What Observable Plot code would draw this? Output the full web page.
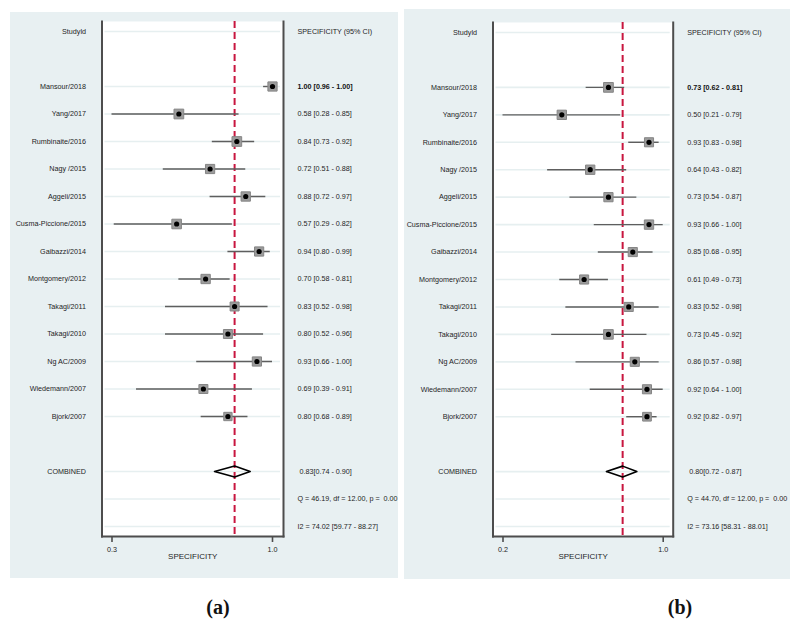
<!DOCTYPE html>
<html>
<head>
<meta charset="utf-8">
<script src="https://cdn.jsdelivr.net/npm/d3@7"></script>
<script src="https://cdn.jsdelivr.net/npm/@observablehq/plot@0.6"></script>
<style>
  html, body { margin: 0; padding: 0; background: #ffffff; }
  body { width: 800px; height: 626px; position: relative; overflow: hidden; font-family: "Liberation Sans", Arial, sans-serif; }
  #pa { position: absolute; left: 10px; top: 12px; }
  #pb { position: absolute; left: 404px; top: 9px; }
  .cap { position: absolute; font-family: "Liberation Serif", "Times New Roman", serif; font-weight: bold; font-size: 20px; color: #111; transform: translate(-50%, -50%); }
</style>
</head>
<body>
<div id="pa"></div>
<div id="pb"></div>
<div class="cap" style="left:218px; top:607px;">(a)</div>
<div class="cap" style="left:680px; top:607px;">(b)</div>
<script>
// ---------- data ----------
const studies = ["Mansour/2018", "Yang/2017", "Rumbinaite/2016", "Nagy /2015", "Aggeli/2015",
  "Cusma-Piccione/2015", "Gaibazzi/2014", "Montgomery/2012", "Takagi/2011", "Takagi/2010",
  "Ng AC/2009", "Wiedemann/2007", "Bjork/2007"];

// panel (a)
const specA = [1.00, 0.58, 0.84, 0.72, 0.88, 0.57, 0.94, 0.70, 0.83, 0.80, 0.93, 0.69, 0.80];
const lowA  = [0.96, 0.28, 0.73, 0.51, 0.72, 0.29, 0.80, 0.58, 0.52, 0.52, 0.66, 0.39, 0.68];
const highA = [1.00, 0.85, 0.92, 0.88, 0.97, 0.82, 0.99, 0.81, 0.98, 0.96, 1.00, 0.91, 0.89];
const weightA = [7.6, 8.5, 8.4, 7.6, 7.8, 8.2, 7.6, 7.8, 7.2, 7.2, 7.6, 7.2, 6.2];
const combinedA = [0.83, 0.74, 0.90];
const qA = [46.19, 12.00, 0.00];
const i2A = [74.02, 59.77, 88.27];

// panel (b)
const specB = [0.73, 0.50, 0.93, 0.64, 0.73, 0.93, 0.85, 0.61, 0.83, 0.73, 0.86, 0.92, 0.92];
const lowB  = [0.62, 0.21, 0.83, 0.43, 0.54, 0.66, 0.68, 0.49, 0.52, 0.45, 0.57, 0.64, 0.82];
const highB = [0.81, 0.79, 0.98, 0.82, 0.87, 1.00, 0.95, 0.73, 0.98, 0.92, 0.98, 1.00, 0.97];
const weightB = [8.5, 7.8, 7.4, 7.8, 7.6, 7.8, 7.4, 7.4, 7.4, 8.2, 7.4, 7.4, 6.8];
const combinedB = [0.80, 0.72, 0.87];
const qB = [44.70, 12.00, 0.00];
const i2B = [73.16, 58.31, 88.01];

const headerLeft = "Studyld";
const headerRight = "SPECIFICITY (95% CI)";
const axisLabel = "SPECIFICITY";

// ---------- drawing ----------
const f2 = v => v.toFixed(2);
const NB = "\u00a0";

function panel(spec, low, high, weight, comb, q, i2, box) {
  const rows = studies.map((s, i) => ({
    name: s, est: spec[i], lo: low[i], hi: high[i], w: weight[i], row: i + 2,
    txt: `${f2(spec[i])} [${f2(low[i])} - ${f2(high[i])}]`
  }));
  const combRow = rows.length + 3;
  const qRow = combRow + 1, i2Row = combRow + 2;
  const lo = d3.min(low), hi = d3.max(high);
  const diamond = [
    {x: comb[1], y: combRow}, {x: comb[0], y: combRow - 0.2},
    {x: comb[2], y: combRow}, {x: comb[0], y: combRow + 0.2}, {x: comb[1], y: combRow}
  ];
  const leftLabels = [{row: 0, t: headerLeft}, ...rows.map(d => ({row: d.row, t: d.name})), {row: combRow, t: "COMBINED"}];
  const rightLabels = [
    {row: 0, t: headerRight},
    ...rows.slice(1).map(d => ({row: d.row, t: d.txt})),
    {row: combRow, t: `${NB}${f2(comb[0])}[${f2(comb[1])} - ${f2(comb[2])}]`},
    {row: qRow, t: `Q = ${f2(q[0])}, df = ${f2(q[1])}, p = ${NB}${f2(q[2])}`},
    {row: i2Row, t: `I2 = ${f2(i2[0])} [${f2(i2[1])} - ${f2(i2[2])}]`}
  ];
  const gridRows = [0, ...rows.map(d => d.row), combRow, qRow, i2Row];
  const fs = 7.2;
  const txtCol = "#1e1e1e";
  return Plot.plot({
    width: box.width, height: box.height,
    marginLeft: box.ml, marginRight: box.mr, marginTop: box.mt, marginBottom: box.mb,
    style: {background: "#e8f0f2", fontFamily: "'Liberation Sans', Arial, sans-serif", overflow: "visible"},
    x: {domain: [lo, hi], insetLeft: 10, insetRight: box.ir},
    y: {domain: [0, i2Row], reverse: true, insetTop: 10, insetBottom: 10, axis: null},
    r: {type: "sqrt", domain: [0, 8.5], range: [0, 5.5]},
    marks: [
      Plot.frame({fill: "white", stroke: null}),
      Plot.ruleY(gridRows, {y: d => d, stroke: "#e6eff0", strokeWidth: 1.6, insetLeft: 3, insetRight: 3}),
      Plot.ruleX([comb[0]], {stroke: "#c8163f", strokeWidth: 2, strokeDasharray: "7,4"}),
      Plot.ruleY(rows, {y: "row", x1: "lo", x2: "hi", stroke: "#5e5e5e", strokeWidth: 1.4}),
      Plot.dot(rows, {x: "est", y: "row", r: "w", symbol: "square", fill: "#9c9c9c", stroke: "#858585", strokeWidth: 1}),
      Plot.dot(rows, {x: "est", y: "row", r: 2.6, fill: "#000"}),
      Plot.line(diamond, {x: "x", y: "y", stroke: "#000", strokeWidth: 1.6}),
      Plot.frame({anchor: "left", stroke: "#4d4d4d", strokeWidth: 2}),
      Plot.frame({anchor: "right", stroke: "#4d4d4d", strokeWidth: 2}),
      Plot.frame({anchor: "bottom", stroke: "#4d4d4d", strokeWidth: 2}),
      Plot.text(leftLabels, {y: "row", text: "t", frameAnchor: "left", dx: -16, textAnchor: "end", fontSize: fs, fill: txtCol}),
      Plot.text(rightLabels, {y: "row", text: "t", frameAnchor: "right", dx: 14, textAnchor: "start", fontSize: fs, fill: txtCol}),
      Plot.text([rows[0]], {y: "row", text: "txt", frameAnchor: "right", dx: 14, textAnchor: "start", fontSize: fs, fill: "#111", fontWeight: "bold"}),
      Plot.axisX({ticks: [lo, hi], tickFormat: d => d.toFixed(1), tickSize: 6, tickPadding: 4, label: null, fontSize: fs, stroke: "#4d4d4d", strokeWidth: 1.6, fill: txtCol}),
      Plot.text([axisLabel], {text: d => d, frameAnchor: "bottom", dy: 22, fontSize: 8, fill: txtCol})
    ]
  });
}

document.getElementById("pa").append(
  panel(specA, lowA, highA, weightA, combinedA, qA, i2A, {width: 388, height: 566, ml: 91.5, mr: 115, mt: 9, mb: 42, ir: 11})
);
document.getElementById("pb").append(
  panel(specB, lowB, highB, weightB, combinedB, qB, i2B, {width: 386, height: 570, ml: 88.5, mr: 117.3, mt: 13, mb: 43, ir: 10})
);
</script>
</body>
</html>
